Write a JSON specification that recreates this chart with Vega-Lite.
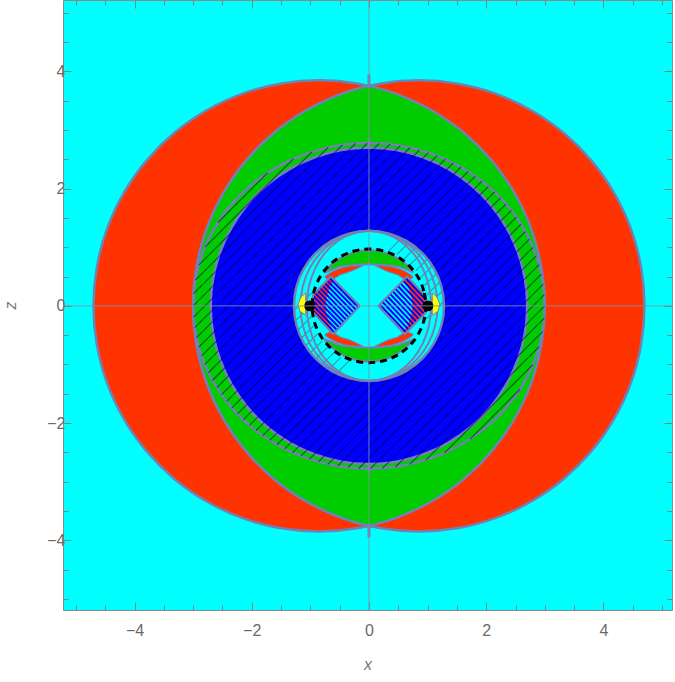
{
"$schema":"https://vega.github.io/schema/vega-lite/v6.json",
"width":609,"height":610,
"autosize":{"type":"none"},
"padding":{"left":63,"top":0,"right":3,"bottom":72},
"background":"white",
"config":{"view":{"fill":"#00FFFF","stroke":"#8a8a8a","strokeWidth":1}},
"datasets":{
"p":[
{"s":"rl","x":3,"z":0},{"s":"rl","x":2.941,"z":0.668},{"s":"rl","x":2.768,"z":1.317},{"s":"rl","x":2.484,"z":1.925},{"s":"rl","x":2.099,"z":2.475},{"s":"rl","x":1.625,"z":2.949},{"s":"rl","x":1.075,"z":3.334},{"s":"rl","x":0.467,"z":3.618},{"s":"rl","x":-0.182,"z":3.791},{"s":"rl","x":-0.85,"z":3.85},{"s":"rl","x":-1.518,"z":3.791},{"s":"rl","x":-2.167,"z":3.618},{"s":"rl","x":-2.775,"z":3.334},{"s":"rl","x":-3.325,"z":2.949},{"s":"rl","x":-3.799,"z":2.475},{"s":"rl","x":-4.184,"z":1.925},{"s":"rl","x":-4.468,"z":1.317},{"s":"rl","x":-4.641,"z":0.668},{"s":"rl","x":-4.7,"z":0},{"s":"rl","x":-4.641,"z":-0.668},{"s":"rl","x":-4.468,"z":-1.317},{"s":"rl","x":-4.184,"z":-1.925},{"s":"rl","x":-3.799,"z":-2.475},{"s":"rl","x":-3.325,"z":-2.949},{"s":"rl","x":-2.775,"z":-3.334},{"s":"rl","x":-2.167,"z":-3.618},{"s":"rl","x":-1.518,"z":-3.791},{"s":"rl","x":-0.85,"z":-3.85},{"s":"rl","x":-0.182,"z":-3.791},{"s":"rl","x":0.467,"z":-3.618},{"s":"rl","x":1.075,"z":-3.334},{"s":"rl","x":1.625,"z":-2.949},{"s":"rl","x":2.099,"z":-2.475},{"s":"rl","x":2.484,"z":-1.925},{"s":"rl","x":2.768,"z":-1.317},{"s":"rl","x":2.941,"z":-0.668},
{"s":"rr","x":-3,"z":0},{"s":"rr","x":-2.941,"z":0.668},{"s":"rr","x":-2.768,"z":1.317},{"s":"rr","x":-2.484,"z":1.925},{"s":"rr","x":-2.099,"z":2.475},{"s":"rr","x":-1.625,"z":2.949},{"s":"rr","x":-1.075,"z":3.334},{"s":"rr","x":-0.467,"z":3.618},{"s":"rr","x":0.182,"z":3.791},{"s":"rr","x":0.85,"z":3.85},{"s":"rr","x":1.518,"z":3.791},{"s":"rr","x":2.167,"z":3.618},{"s":"rr","x":2.775,"z":3.334},{"s":"rr","x":3.325,"z":2.949},{"s":"rr","x":3.799,"z":2.475},{"s":"rr","x":4.184,"z":1.925},{"s":"rr","x":4.468,"z":1.317},{"s":"rr","x":4.641,"z":0.668},{"s":"rr","x":4.7,"z":0},{"s":"rr","x":4.641,"z":-0.668},{"s":"rr","x":4.468,"z":-1.317},{"s":"rr","x":4.184,"z":-1.925},{"s":"rr","x":3.799,"z":-2.475},{"s":"rr","x":3.325,"z":-2.949},{"s":"rr","x":2.775,"z":-3.334},{"s":"rr","x":2.167,"z":-3.618},{"s":"rr","x":1.518,"z":-3.791},{"s":"rr","x":0.85,"z":-3.85},{"s":"rr","x":0.182,"z":-3.791},{"s":"rr","x":-0.467,"z":-3.618},{"s":"rr","x":-1.075,"z":-3.334},{"s":"rr","x":-1.625,"z":-2.949},{"s":"rr","x":-2.099,"z":-2.475},{"s":"rr","x":-2.484,"z":-1.925},{"s":"rr","x":-2.768,"z":-1.317},{"s":"rr","x":-2.941,"z":-0.668},
{"s":"gl","x":0,"z":3.755},{"s":"gl","x":-0.467,"z":3.618},{"s":"gl","x":-1.075,"z":3.334},{"s":"gl","x":-1.625,"z":2.949},{"s":"gl","x":-2.099,"z":2.475},{"s":"gl","x":-2.484,"z":1.925},{"s":"gl","x":-2.768,"z":1.317},{"s":"gl","x":-2.941,"z":0.668},{"s":"gl","x":-3,"z":0},{"s":"gl","x":-2.941,"z":-0.668},{"s":"gl","x":-2.768,"z":-1.317},{"s":"gl","x":-2.484,"z":-1.925},{"s":"gl","x":-2.099,"z":-2.475},{"s":"gl","x":-1.625,"z":-2.949},{"s":"gl","x":-1.075,"z":-3.334},{"s":"gl","x":-0.467,"z":-3.618},{"s":"gl","x":0,"z":-3.755},{"s":"gl","x":0,"z":-3.755},{"s":"gl","x":0.467,"z":-3.618},{"s":"gl","x":1.075,"z":-3.334},{"s":"gl","x":1.625,"z":-2.949},{"s":"gl","x":2.099,"z":-2.475},{"s":"gl","x":2.484,"z":-1.925},{"s":"gl","x":2.768,"z":-1.317},{"s":"gl","x":2.941,"z":-0.668},{"s":"gl","x":3,"z":0},{"s":"gl","x":2.941,"z":0.668},{"s":"gl","x":2.768,"z":1.317},{"s":"gl","x":2.484,"z":1.925},{"s":"gl","x":2.099,"z":2.475},{"s":"gl","x":1.625,"z":2.949},{"s":"gl","x":1.075,"z":3.334},{"s":"gl","x":0.467,"z":3.618},{"s":"gl","x":0,"z":3.755},
{"s":"el","x":3,"z":0},{"s":"el","x":2.954,"z":0.483},{"s":"el","x":2.819,"z":0.951},{"s":"el","x":2.598,"z":1.39},{"s":"el","x":2.298,"z":1.787},{"s":"el","x":1.928,"z":2.129},{"s":"el","x":1.5,"z":2.408},{"s":"el","x":1.026,"z":2.612},{"s":"el","x":0.521,"z":2.738},{"s":"el","x":0,"z":2.78},{"s":"el","x":-0.521,"z":2.738},{"s":"el","x":-1.026,"z":2.612},{"s":"el","x":-1.5,"z":2.408},{"s":"el","x":-1.928,"z":2.129},{"s":"el","x":-2.298,"z":1.787},{"s":"el","x":-2.598,"z":1.39},{"s":"el","x":-2.819,"z":0.951},{"s":"el","x":-2.954,"z":0.483},{"s":"el","x":-3,"z":0},{"s":"el","x":-2.954,"z":-0.483},{"s":"el","x":-2.819,"z":-0.951},{"s":"el","x":-2.598,"z":-1.39},{"s":"el","x":-2.298,"z":-1.787},{"s":"el","x":-1.928,"z":-2.129},{"s":"el","x":-1.5,"z":-2.408},{"s":"el","x":-1.026,"z":-2.612},{"s":"el","x":-0.521,"z":-2.738},{"s":"el","x":0,"z":-2.78},{"s":"el","x":0.521,"z":-2.738},{"s":"el","x":1.026,"z":-2.612},{"s":"el","x":1.5,"z":-2.408},{"s":"el","x":1.928,"z":-2.129},{"s":"el","x":2.298,"z":-1.787},{"s":"el","x":2.598,"z":-1.39},{"s":"el","x":2.819,"z":-0.951},{"s":"el","x":2.954,"z":-0.483},
{"s":"bc","x":2.7,"z":0},{"s":"bc","x":2.659,"z":0.469},{"s":"bc","x":2.537,"z":0.923},{"s":"bc","x":2.338,"z":1.35},{"s":"bc","x":2.068,"z":1.736},{"s":"bc","x":1.736,"z":2.068},{"s":"bc","x":1.35,"z":2.338},{"s":"bc","x":0.923,"z":2.537},{"s":"bc","x":0.469,"z":2.659},{"s":"bc","x":0,"z":2.7},{"s":"bc","x":-0.469,"z":2.659},{"s":"bc","x":-0.923,"z":2.537},{"s":"bc","x":-1.35,"z":2.338},{"s":"bc","x":-1.736,"z":2.068},{"s":"bc","x":-2.068,"z":1.736},{"s":"bc","x":-2.338,"z":1.35},{"s":"bc","x":-2.537,"z":0.923},{"s":"bc","x":-2.659,"z":0.469},{"s":"bc","x":-2.7,"z":0},{"s":"bc","x":-2.659,"z":-0.469},{"s":"bc","x":-2.537,"z":-0.923},{"s":"bc","x":-2.338,"z":-1.35},{"s":"bc","x":-2.068,"z":-1.736},{"s":"bc","x":-1.736,"z":-2.068},{"s":"bc","x":-1.35,"z":-2.338},{"s":"bc","x":-0.923,"z":-2.537},{"s":"bc","x":-0.469,"z":-2.659},{"s":"bc","x":0,"z":-2.7},{"s":"bc","x":0.469,"z":-2.659},{"s":"bc","x":0.923,"z":-2.537},{"s":"bc","x":1.35,"z":-2.338},{"s":"bc","x":1.736,"z":-2.068},{"s":"bc","x":2.068,"z":-1.736},{"s":"bc","x":2.338,"z":-1.35},{"s":"bc","x":2.537,"z":-0.923},{"s":"bc","x":2.659,"z":-0.469},
{"s":"cd","x":1.28,"z":0},{"s":"cd","x":1.236,"z":0.331},{"s":"cd","x":1.108,"z":0.64},{"s":"cd","x":0.905,"z":0.905},{"s":"cd","x":0.64,"z":1.108},{"s":"cd","x":0.331,"z":1.236},{"s":"cd","x":0,"z":1.28},{"s":"cd","x":-0.331,"z":1.236},{"s":"cd","x":-0.64,"z":1.108},{"s":"cd","x":-0.905,"z":0.905},{"s":"cd","x":-1.108,"z":0.64},{"s":"cd","x":-1.236,"z":0.331},{"s":"cd","x":-1.28,"z":0},{"s":"cd","x":-1.236,"z":-0.331},{"s":"cd","x":-1.108,"z":-0.64},{"s":"cd","x":-0.905,"z":-0.905},{"s":"cd","x":-0.64,"z":-1.108},{"s":"cd","x":-0.331,"z":-1.236},{"s":"cd","x":0,"z":-1.28},{"s":"cd","x":0.331,"z":-1.236},{"s":"cd","x":0.64,"z":-1.108},{"s":"cd","x":0.905,"z":-0.905},{"s":"cd","x":1.108,"z":-0.64},{"s":"cd","x":1.236,"z":-0.331},
{"s":"e1","x":1.17,"z":0},{"s":"e1","x":1.13,"z":0.331},{"s":"e1","x":1.013,"z":0.64},{"s":"e1","x":0.827,"z":0.905},{"s":"e1","x":0.585,"z":1.108},{"s":"e1","x":0.303,"z":1.236},{"s":"e1","x":0,"z":1.28},{"s":"e1","x":-0.303,"z":1.236},{"s":"e1","x":-0.585,"z":1.108},{"s":"e1","x":-0.827,"z":0.905},{"s":"e1","x":-1.013,"z":0.64},{"s":"e1","x":-1.13,"z":0.331},{"s":"e1","x":-1.17,"z":0},{"s":"e1","x":-1.13,"z":-0.331},{"s":"e1","x":-1.013,"z":-0.64},{"s":"e1","x":-0.827,"z":-0.905},{"s":"e1","x":-0.585,"z":-1.108},{"s":"e1","x":-0.303,"z":-1.236},{"s":"e1","x":0,"z":-1.28},{"s":"e1","x":0.303,"z":-1.236},{"s":"e1","x":0.585,"z":-1.108},{"s":"e1","x":0.827,"z":-0.905},{"s":"e1","x":1.013,"z":-0.64},{"s":"e1","x":1.13,"z":-0.331},
{"s":"e2","x":1.06,"z":0},{"s":"e2","x":1.024,"z":0.331},{"s":"e2","x":0.918,"z":0.64},{"s":"e2","x":0.75,"z":0.905},{"s":"e2","x":0.53,"z":1.108},{"s":"e2","x":0.274,"z":1.236},{"s":"e2","x":0,"z":1.28},{"s":"e2","x":-0.274,"z":1.236},{"s":"e2","x":-0.53,"z":1.108},{"s":"e2","x":-0.75,"z":0.905},{"s":"e2","x":-0.918,"z":0.64},{"s":"e2","x":-1.024,"z":0.331},{"s":"e2","x":-1.06,"z":0},{"s":"e2","x":-1.024,"z":-0.331},{"s":"e2","x":-0.918,"z":-0.64},{"s":"e2","x":-0.75,"z":-0.905},{"s":"e2","x":-0.53,"z":-1.108},{"s":"e2","x":-0.274,"z":-1.236},{"s":"e2","x":0,"z":-1.28},{"s":"e2","x":0.274,"z":-1.236},{"s":"e2","x":0.53,"z":-1.108},{"s":"e2","x":0.75,"z":-0.905},{"s":"e2","x":0.918,"z":-0.64},{"s":"e2","x":1.024,"z":-0.331},
{"s":"dc","x":0.97,"z":0},{"s":"dc","x":0.937,"z":0.251},{"s":"dc","x":0.84,"z":0.485},{"s":"dc","x":0.686,"z":0.686},{"s":"dc","x":0.485,"z":0.84},{"s":"dc","x":0.251,"z":0.937},{"s":"dc","x":0,"z":0.97},{"s":"dc","x":-0.251,"z":0.937},{"s":"dc","x":-0.485,"z":0.84},{"s":"dc","x":-0.686,"z":0.686},{"s":"dc","x":-0.84,"z":0.485},{"s":"dc","x":-0.937,"z":0.251},{"s":"dc","x":-0.97,"z":0},{"s":"dc","x":-0.937,"z":-0.251},{"s":"dc","x":-0.84,"z":-0.485},{"s":"dc","x":-0.686,"z":-0.686},{"s":"dc","x":-0.485,"z":-0.84},{"s":"dc","x":-0.251,"z":-0.937},{"s":"dc","x":0,"z":-0.97},{"s":"dc","x":0.251,"z":-0.937},{"s":"dc","x":0.485,"z":-0.84},{"s":"dc","x":0.686,"z":-0.686},{"s":"dc","x":0.84,"z":-0.485},{"s":"dc","x":0.937,"z":-0.251},
{"s":"gt","x":0.759,"z":0.572},{"s":"gt","x":0.611,"z":0.728},{"s":"gt","x":0.401,"z":0.861},{"s":"gt","x":0.165,"z":0.936},{"s":"gt","x":0,"z":0.95},{"s":"gt","x":-0.165,"z":0.936},{"s":"gt","x":-0.401,"z":0.861},{"s":"gt","x":-0.611,"z":0.728},{"s":"gt","x":-0.759,"z":0.572},{"s":"gt","x":-0.5,"z":0.67},{"s":"gt","x":-0.25,"z":0.7},{"s":"gt","x":0,"z":0.71},{"s":"gt","x":0.25,"z":0.7},{"s":"gt","x":0.5,"z":0.67},{"s":"gt","x":0.759,"z":0.572},
{"s":"gb","x":0.759,"z":-0.572},{"s":"gb","x":0.611,"z":-0.728},{"s":"gb","x":0.401,"z":-0.861},{"s":"gb","x":0.165,"z":-0.936},{"s":"gb","x":0,"z":-0.95},{"s":"gb","x":-0.165,"z":-0.936},{"s":"gb","x":-0.401,"z":-0.861},{"s":"gb","x":-0.611,"z":-0.728},{"s":"gb","x":-0.759,"z":-0.572},{"s":"gb","x":-0.5,"z":-0.67},{"s":"gb","x":-0.25,"z":-0.7},{"s":"gb","x":0,"z":-0.71},{"s":"gb","x":0.25,"z":-0.7},{"s":"gb","x":0.5,"z":-0.67},{"s":"gb","x":0.759,"z":-0.572},
{"s":"r1","x":-0.1,"z":0.69},{"s":"r1","x":-0.3,"z":0.68},{"s":"r1","x":-0.46,"z":0.65},{"s":"r1","x":-0.61,"z":0.59},{"s":"r1","x":-0.75,"z":0.49},{"s":"r1","x":-0.63,"z":0.45},{"s":"r1","x":-0.49,"z":0.53},{"s":"r1","x":-0.31,"z":0.59},{"s":"r1","x":-0.1,"z":0.69},
{"s":"r2","x":0.1,"z":0.69},{"s":"r2","x":0.3,"z":0.68},{"s":"r2","x":0.46,"z":0.65},{"s":"r2","x":0.61,"z":0.59},{"s":"r2","x":0.75,"z":0.49},{"s":"r2","x":0.63,"z":0.45},{"s":"r2","x":0.49,"z":0.53},{"s":"r2","x":0.31,"z":0.59},{"s":"r2","x":0.1,"z":0.69},
{"s":"r3","x":-0.1,"z":-0.69},{"s":"r3","x":-0.3,"z":-0.68},{"s":"r3","x":-0.46,"z":-0.65},{"s":"r3","x":-0.61,"z":-0.59},{"s":"r3","x":-0.75,"z":-0.49},{"s":"r3","x":-0.63,"z":-0.45},{"s":"r3","x":-0.49,"z":-0.53},{"s":"r3","x":-0.31,"z":-0.59},{"s":"r3","x":-0.1,"z":-0.69},
{"s":"r4","x":0.1,"z":-0.69},{"s":"r4","x":0.3,"z":-0.68},{"s":"r4","x":0.46,"z":-0.65},{"s":"r4","x":0.61,"z":-0.59},{"s":"r4","x":0.75,"z":-0.49},{"s":"r4","x":0.63,"z":-0.45},{"s":"r4","x":0.49,"z":-0.53},{"s":"r4","x":0.31,"z":-0.59},{"s":"r4","x":0.1,"z":-0.69},
{"s":"ql","x":-0.16,"z":0},{"s":"ql","x":-0.65,"z":0.5},{"s":"ql","x":-0.95,"z":0.19},{"s":"ql","x":-0.97,"z":0.05},{"s":"ql","x":-0.965,"z":-0.095},{"s":"ql","x":-0.61,"z":-0.48},{"s":"ql","x":-0.16,"z":0},
{"s":"qr","x":0.16,"z":0},{"s":"qr","x":0.65,"z":0.5},{"s":"qr","x":0.954,"z":0.176},{"s":"qr","x":0.97,"z":0.03},{"s":"qr","x":0.963,"z":-0.12},{"s":"qr","x":0.61,"z":-0.48},{"s":"qr","x":0.16,"z":0},
{"s":"bl","x":-0.593,"z":0.442},{"s":"bl","x":-0.65,"z":0.5},{"s":"bl","x":-0.95,"z":0.19},{"s":"bl","x":-0.97,"z":0.05},{"s":"bl","x":-0.965,"z":-0.095},{"s":"bl","x":-0.61,"z":-0.48},{"s":"bl","x":-0.585,"z":-0.453},{"s":"bl","x":-0.671,"z":-0.313},{"s":"bl","x":-0.729,"z":-0.128},{"s":"bl","x":-0.74,"z":0},{"s":"bl","x":-0.729,"z":0.128},{"s":"bl","x":-0.671,"z":0.313},{"s":"bl","x":-0.593,"z":0.442},
{"s":"br","x":0.593,"z":0.442},{"s":"br","x":0.65,"z":0.5},{"s":"br","x":0.954,"z":0.176},{"s":"br","x":0.97,"z":0.03},{"s":"br","x":0.963,"z":-0.12},{"s":"br","x":0.61,"z":-0.48},{"s":"br","x":0.585,"z":-0.453},{"s":"br","x":0.671,"z":-0.313},{"s":"br","x":0.729,"z":-0.128},{"s":"br","x":0.74,"z":0},{"s":"br","x":0.729,"z":0.128},{"s":"br","x":0.671,"z":0.313},{"s":"br","x":0.593,"z":0.442},
{"s":"yl","x":-1.08,"z":0.22},{"s":"yl","x":-1.16,"z":0.15},{"s":"yl","x":-1.21,"z":0.03},{"s":"yl","x":-1.18,"z":-0.09},{"s":"yl","x":-1.08,"z":-0.16},{"s":"yl","x":-1.08,"z":0.22},
{"s":"yr","x":1.08,"z":0.22},{"s":"yr","x":1.16,"z":0.15},{"s":"yr","x":1.21,"z":0.03},{"s":"yr","x":1.18,"z":-0.09},{"s":"yr","x":1.08,"z":-0.16},{"s":"yr","x":1.08,"z":0.22}
],
"h":[
{"x":-2.039,"z":-2.039,"x2":2.039,"z2":2.039},{"x":-2.145,"z":-1.945,"x2":1.929,"z2":2.129},{"x":-2.244,"z":-1.844,"x2":1.814,"z2":2.214},{"x":-2.34,"z":-1.74,"x2":1.694,"z2":2.294},{"x":-2.43,"z":-1.63,"x2":1.57,"z2":2.37},{"x":-2.515,"z":-1.515,"x2":1.439,"z2":2.439},{"x":-2.595,"z":-1.395,"x2":1.303,"z2":2.503},{"x":-2.669,"z":-1.269,"x2":1.163,"z2":2.563},{"x":-2.738,"z":-1.138,"x2":1.016,"z2":2.616},{"x":-2.799,"z":-0.999,"x2":0.863,"z2":2.663},{"x":-2.855,"z":-0.855,"x2":0.703,"z2":2.703},{"x":-2.903,"z":-0.703,"x2":0.535,"z2":2.735},{"x":-2.942,"z":-0.542,"x2":0.36,"z2":2.76},{"x":-2.973,"z":-0.373,"x2":0.175,"z2":2.775},{"x":-2.992,"z":-0.192,"x2":-0.02,"z2":2.78},{"x":-3,"z":0,"x2":-0.228,"z2":2.772},{"x":-2.992,"z":0.208,"x2":-0.452,"z2":2.748},{"x":-2.962,"z":0.438,"x2":-0.696,"z2":2.704},{"x":-2.905,"z":0.695,"x2":-0.969,"z2":2.631},{"x":-2.798,"z":1.002,"x2":-1.29,"z2":2.51},{"x":-2.577,"z":1.423,"x2":-1.727,"z2":2.273},
{"x":-1.929,"z":-2.129,"x2":2.145,"z2":1.945},{"x":-1.814,"z":-2.214,"x2":2.244,"z2":1.844},{"x":-1.694,"z":-2.294,"x2":2.34,"z2":1.74},{"x":-1.57,"z":-2.37,"x2":2.43,"z2":1.63},{"x":-1.439,"z":-2.439,"x2":2.515,"z2":1.515},{"x":-1.303,"z":-2.503,"x2":2.595,"z2":1.395},{"x":-1.163,"z":-2.563,"x2":2.669,"z2":1.269},{"x":-1.016,"z":-2.616,"x2":2.738,"z2":1.138},{"x":-0.863,"z":-2.663,"x2":2.799,"z2":0.999},{"x":-0.703,"z":-2.703,"x2":2.855,"z2":0.855},{"x":-0.535,"z":-2.735,"x2":2.903,"z2":0.703},{"x":-0.36,"z":-2.76,"x2":2.942,"z2":0.542},{"x":-0.175,"z":-2.775,"x2":2.973,"z2":0.373},{"x":0.02,"z":-2.78,"x2":2.992,"z2":0.192},{"x":0.228,"z":-2.772,"x2":3,"z2":0},{"x":0.452,"z":-2.748,"x2":2.992,"z2":-0.208},{"x":0.696,"z":-2.704,"x2":2.962,"z2":-0.438},{"x":0.969,"z":-2.631,"x2":2.905,"z2":-0.695},{"x":1.29,"z":-2.51,"x2":2.798,"z2":-1.002},{"x":1.727,"z":-2.273,"x2":2.577,"z2":-1.423}
],
"hr":[
{"x":-1.259,"z":-0.059,"x2":-0.974,"z2":0.226},{"x":-1.2375,"z":-0.2375,"x2":-1.0,"z2":0},{"x":-1.196,"z":-0.396,"x2":-0.983,"z2":-0.183},{"x":-1.139,"z":-0.539,"x2":-0.94,"z2":-0.34},{"x":-1.068,"z":-0.668,"x2":-0.878,"z2":-0.478},{"x":-0.985,"z":-0.785,"x2":-0.8,"z2":-0.6},{"x":-0.891,"z":-0.891,"x2":-0.707,"z2":-0.707},{"x":-0.785,"z":-0.985,"x2":-0.6,"z2":-0.8},{"x":-0.668,"z":-1.068,"x2":-0.478,"z2":-0.878},{"x":-0.539,"z":-1.139,"x2":-0.34,"z2":-0.94},
{"x":1.259,"z":0.059,"x2":0.974,"z2":-0.226},{"x":1.2375,"z":0.2375,"x2":1.0,"z2":0},{"x":1.196,"z":0.396,"x2":0.983,"z2":0.183},{"x":1.139,"z":0.539,"x2":0.94,"z2":0.34},{"x":1.068,"z":0.668,"x2":0.878,"z2":0.478},{"x":0.985,"z":0.785,"x2":0.8,"z2":0.6},{"x":0.891,"z":0.891,"x2":0.707,"z2":0.707},{"x":0.785,"z":0.985,"x2":0.6,"z2":0.8},{"x":0.668,"z":1.068,"x2":0.478,"z2":0.878},{"x":0.539,"z":1.139,"x2":0.34,"z2":0.94}
],
"st":[
{"x":-0.967,"z":-0.068,"x2":-0.5875,"z2":-0.456},{"x":-0.969,"z":0.018,"x2":-0.547,"z2":-0.4128},{"x":-0.964,"z":0.097,"x2":-0.5065,"z2":-0.3696},{"x":-0.955,"z":0.172,"x2":-0.466,"z2":-0.3264},{"x":-0.9155,"z":0.2168,"x2":-0.4255,"z2":-0.2832},{"x":-0.875,"z":0.26,"x2":-0.385,"z2":-0.24},{"x":-0.8345,"z":0.3032,"x2":-0.3445,"z2":-0.1968},{"x":-0.794,"z":0.3464,"x2":-0.304,"z2":-0.1536},{"x":-0.7535,"z":0.3896,"x2":-0.2635,"z2":-0.1104},{"x":-0.713,"z":0.4328,"x2":-0.223,"z2":-0.0672},{"x":-0.6725,"z":0.476,"x2":-0.1825,"z2":-0.024},
{"x":0.1845,"z":0.025,"x2":0.6345,"z2":-0.455},{"x":0.2286,"z":0.07,"x2":0.6786,"z2":-0.41},{"x":0.2727,"z":0.115,"x2":0.7227,"z2":-0.365},{"x":0.3168,"z":0.16,"x2":0.7668,"z2":-0.32},{"x":0.3609,"z":0.205,"x2":0.8109,"z2":-0.275},{"x":0.405,"z":0.25,"x2":0.855,"z2":-0.23},{"x":0.4491,"z":0.295,"x2":0.8991,"z2":-0.185},{"x":0.4932,"z":0.34,"x2":0.9432,"z2":-0.14},{"x":0.5373,"z":0.385,"x2":0.967,"z2":-0.073},{"x":0.5814,"z":0.43,"x2":0.969,"z2":0.017},{"x":0.6255,"z":0.475,"x2":0.963,"z2":0.115}
],
"ax":[
{"x":0,"z":-5.19,"x2":0,"z2":5.22},{"x":-5.22,"z":0,"x2":5.17,"z2":0}
],
"ck":[
{"x":0,"z":3.74,"x2":0,"z2":3.95},{"x":0,"z":2.72,"x2":0,"z2":2.86},{"x":0,"z":-3.74,"x2":0,"z2":-3.95},{"x":0,"z":-2.72,"x2":0,"z2":-2.86}
],
"dots":[{"x":-1.01,"z":0},{"x":1.005,"z":0}]
},
"encoding":{
"x":{"field":"x","type":"quantitative","scale":{"domain":[-5.22,5.17],"nice":false,"zero":false},"axis":null},
"y":{"field":"z","type":"quantitative","scale":{"domain":[-5.19,5.22],"nice":false,"zero":false},"axis":null}
},
"layer":[
{"data":{"name":"p"},"transform":[{"filter":{"field":"s","oneOf":["rl","rr"]}}],
"mark":{"type":"line","interpolate":"cardinal-closed","fill":"#FF3300","stroke":"#7181B2","strokeWidth":2.5,"strokeJoin":"round"},
"encoding":{
"x":{"field":"x","type":"quantitative","scale":{"domain":[-5.22,5.17],"nice":false,"zero":false},
"axis":{"orient":"bottom","values":[-5,-4.5,-4,-3.5,-3,-2.5,-2,-1.5,-1,-0.5,0,0.5,1,1.5,2,2.5,3,3.5,4,4.5,5],"labelExpr":"datum.value % 2 === 0 ? format(datum.value,'d') : ''","tickSize":{"condition":{"test":"datum.value % 2 === 0","value":-8},"value":-5},"tickColor":"#808080","domain":false,"grid":false,"labelFont":"Liberation Sans","labelFontSize":16,"labelColor":"#6a6a6a","labelPadding":20,"labelFlush":false,"labelOverlap":false,"title":"x","titleFont":"Liberation Sans","titleFontSize":16,"titleFontStyle":"italic","titleFontWeight":"normal","titleColor":"#777777","titlePadding":15}},
"y":{"field":"z","type":"quantitative","scale":{"domain":[-5.19,5.22],"nice":false,"zero":false},
"axis":{"orient":"left","values":[-5,-4.5,-4,-3.5,-3,-2.5,-2,-1.5,-1,-0.5,0,0.5,1,1.5,2,2.5,3,3.5,4,4.5,5],"labelExpr":"datum.value % 2 === 0 ? format(datum.value,'d') : ''","tickSize":{"condition":{"test":"datum.value % 2 === 0","value":-8},"value":-5},"tickColor":"#808080","domain":false,"grid":false,"labelFont":"Liberation Sans","labelFontSize":16,"labelColor":"#6a6a6a","labelPadding":6,"labelFlush":false,"labelOverlap":false,"title":"z","titleFont":"Liberation Sans","titleFontSize":16,"titleFontStyle":"italic","titleFontWeight":"normal","titleColor":"#777777","titlePadding":28}},
"detail":{"field":"s"},"order":{"value":null}}},
{"data":{"name":"p"},"transform":[{"filter":{"field":"s","equal":"gl"}}],
"mark":{"type":"line","interpolate":"cardinal","fill":"#00CC00","stroke":"#7181B2","strokeWidth":2.5,"strokeJoin":"round"},
"encoding":{"detail":{"field":"s"},"order":{"value":null}}},
{"data":{"name":"p"},"transform":[{"filter":{"field":"s","equal":"el"}}],
"mark":{"type":"line","interpolate":"cardinal-closed","stroke":"#7181B2","strokeWidth":2.5},
"encoding":{"detail":{"field":"s"},"order":{"value":null}}},
{"data":{"name":"p"},"transform":[{"filter":{"field":"s","equal":"bc"}}],
"mark":{"type":"line","interpolate":"cardinal-closed","fill":"#0000FF","stroke":"#7181B2","strokeWidth":2.5},
"encoding":{"detail":{"field":"s"},"order":{"value":null}}},
{"data":{"name":"h"},"mark":{"type":"rule","color":"#000033","opacity":0.55,"strokeWidth":1.1},
"encoding":{"x2":{"field":"x2"},"y2":{"field":"z2"}}},
{"data":{"name":"ck"},"mark":{"type":"rule","color":"#7181B2","strokeWidth":3},
"encoding":{"x2":{"field":"x2"},"y2":{"field":"z2"}}},
{"data":{"name":"p"},"transform":[{"filter":{"field":"s","equal":"cd"}}],
"mark":{"type":"line","interpolate":"cardinal-closed","fill":"#00FFFF","stroke":"#7181B2","strokeWidth":2.5},
"encoding":{"detail":{"field":"s"},"order":{"value":null}}},
{"data":{"name":"hr"},"mark":{"type":"rule","color":"#334466","opacity":0.5,"strokeWidth":1.1},
"encoding":{"x2":{"field":"x2"},"y2":{"field":"z2"}}},
{"data":{"name":"p"},"transform":[{"filter":{"field":"s","oneOf":["e1","e2"]}}],
"mark":{"type":"line","interpolate":"cardinal-closed","stroke":"#7181B2","strokeWidth":2},
"encoding":{"detail":{"field":"s"},"order":{"value":null}}},
{"data":{"name":"p"},"transform":[{"filter":{"field":"s","oneOf":["gt","gb"]}}],
"mark":{"type":"line","interpolate":"cardinal","tension":0.3,"fill":"#00CC00","stroke":"#7181B2","strokeWidth":2,"strokeJoin":"round"},
"encoding":{"detail":{"field":"s"},"order":{"value":null}}},
{"data":{"name":"p"},"transform":[{"filter":{"field":"s","oneOf":["r1","r2","r3","r4"]}}],
"mark":{"type":"line","interpolate":"cardinal","tension":0.3,"fill":"#FF3300","stroke":"#7181B2","strokeWidth":1.2,"strokeJoin":"round"},
"encoding":{"detail":{"field":"s"},"order":{"value":null}}},
{"data":{"name":"p"},"transform":[{"filter":{"field":"s","oneOf":["ql","qr"]}}],
"mark":{"type":"line","fill":"#00FFFF","stroke":"#7181B2","strokeWidth":2,"strokeJoin":"round"},
"encoding":{"detail":{"field":"s"},"order":{"value":null}}},
{"data":{"name":"p"},"transform":[{"filter":{"field":"s","oneOf":["bl","br"]}}],
"mark":{"type":"line","fill":"#FF3300","strokeWidth":0},
"encoding":{"detail":{"field":"s"},"order":{"value":null}}},
{"data":{"name":"st"},"mark":{"type":"rule","color":"#0000FF","strokeWidth":2},
"encoding":{"x2":{"field":"x2"},"y2":{"field":"z2"}}},
{"data":{"name":"p"},"transform":[{"filter":{"field":"s","oneOf":["ql","qr"]}}],
"mark":{"type":"line","stroke":"#7181B2","strokeWidth":2,"strokeJoin":"round"},
"encoding":{"detail":{"field":"s"},"order":{"value":null}}},
{"data":{"name":"p"},"transform":[{"filter":{"field":"s","equal":"dc"}}],
"mark":{"type":"line","interpolate":"cardinal-closed","stroke":"#000000","strokeWidth":3,"strokeDash":[7,5]},
"encoding":{"detail":{"field":"s"},"order":{"value":null}}},
{"data":{"name":"p"},"transform":[{"filter":{"field":"s","oneOf":["yl","yr"]}}],
"mark":{"type":"line","fill":"#FFFF00","stroke":"#7181B2","strokeWidth":1},
"encoding":{"detail":{"field":"s"},"order":{"value":null}}},
{"data":{"name":"dots"},"mark":{"type":"point","filled":true,"color":"#000000","size":120,"opacity":1}},
{"data":{"name":"ax"},"mark":{"type":"rule","color":"#7F8FA6","strokeWidth":1,"opacity":0.85},
"encoding":{
"x":{"field":"x","type":"quantitative","scale":{"domain":[-5.22,5.17],"nice":false,"zero":false},
"axis":{"orient":"top","values":[-5,-4.5,-4,-3.5,-3,-2.5,-2,-1.5,-1,-0.5,0,0.5,1,1.5,2,2.5,3,3.5,4,4.5,5],"labels":false,"title":null,"domain":false,"grid":false,"tickSize":{"condition":{"test":"datum.value % 2 === 0","value":-8},"value":-5},"tickColor":"#808080"}},
"y":{"field":"z","type":"quantitative","scale":{"domain":[-5.19,5.22],"nice":false,"zero":false},
"axis":{"orient":"right","values":[-5,-4.5,-4,-3.5,-3,-2.5,-2,-1.5,-1,-0.5,0,0.5,1,1.5,2,2.5,3,3.5,4,4.5,5],"labels":false,"title":null,"domain":false,"grid":false,"tickSize":{"condition":{"test":"datum.value % 2 === 0","value":-8},"value":-5},"tickColor":"#808080"}},
"x2":{"field":"x2"},"y2":{"field":"z2"}}}
],
"resolve":{"axis":{"x":"independent","y":"independent"}}
}
